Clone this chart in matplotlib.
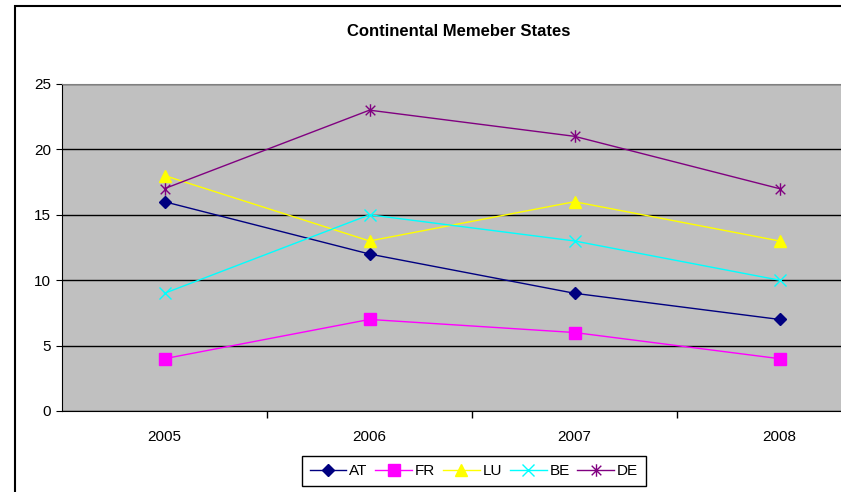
import matplotlib
matplotlib.use('Agg')
from matplotlib import pyplot as plt
from matplotlib.path import Path
from matplotlib.patches import Rectangle

plt.rcParams['font.family'] = ['Liberation Sans', 'DejaVu Sans']

years = ['2005', '2006', '2007', '2008']
at = [16, 12, 9, 7]
fr = [4, 7, 6, 4]
lu = [18, 13, 16, 13]
be = [9, 15, 13, 10]
de = [17, 23, 21, 17]

# excel style star: an x with a vertical stroke
star = Path([(-1, -1), (1, 1), (-1, 1), (1, -1), (0, -1.3), (0, 1.3)],
            [Path.MOVETO, Path.LINETO, Path.MOVETO, Path.LINETO, Path.MOVETO, Path.LINETO])

fig = plt.figure(figsize=(8.41, 4.92), dpi=100)
ax = fig.add_axes([62/841, 81/492, 820/841, 327/492])
ax.set_facecolor('#C0C0C0')

xs = list(range(len(years)))
ax.plot(xs, at, color='#000080', marker='D', ms=6.5, lw=1, label='AT')
ax.plot(xs, fr, color='#FF00FF', marker='s', ms=8, lw=1, label='FR')
ax.plot(xs, lu, color='#FFFF00', marker='^', ms=9, lw=1, label='LU')
ax.plot(xs, be, color='#00FFFF', marker='x', ms=8, mew=1, lw=1, label='BE')
ax.plot(xs, de, color='#800080', marker=star, ms=9, mew=1, mfc='none', lw=1, label='DE')

ax.set_xlim(-0.5, 3.5)
ax.set_ylim(0, 25)
ax.set_yticks([0, 5, 10, 15, 20, 25])
ax.set_xticks(xs)
ax.set_xticklabels(years)
ax.set_xticks([0.5, 1.5, 2.5], minor=True)
ax.tick_params(axis='x', which='major', length=0, pad=14, labelsize=11)
ax.tick_params(axis='x', which='minor', length=5, direction='out', width=1)
ax.tick_params(axis='y', length=4, direction='out', labelsize=11, pad=4)
ax.grid(axis='y', color='black', lw=1)
ax.set_axisbelow(True)
for s in ['top', 'right']:
    ax.spines[s].set_color('#808080')
ax.spines['left'].set_color('black')
ax.spines['bottom'].set_color('black')

fig.text(0.545, 1 - 31/492, 'Continental Memeber States', ha='center', va='center',
         fontsize=12, fontweight='bold')

leg = fig.legend(loc='center', bbox_to_anchor=(474/841, 1 - 471/492), ncol=5,
                 frameon=True, fancybox=False, edgecolor='black', framealpha=1,
                 fontsize=11, handlelength=2.4, columnspacing=0.5, handletextpad=0.2,
                 borderpad=0.5, borderaxespad=0)
leg.get_frame().set_linewidth(1)

fig.patches.append(Rectangle((15/841, -0.1), 1.2, 1 - 6/492 + 0.1, transform=fig.transFigure,
                             fill=False, edgecolor='black', lw=1.5))

plt.savefig('out.png', dpi=100)
